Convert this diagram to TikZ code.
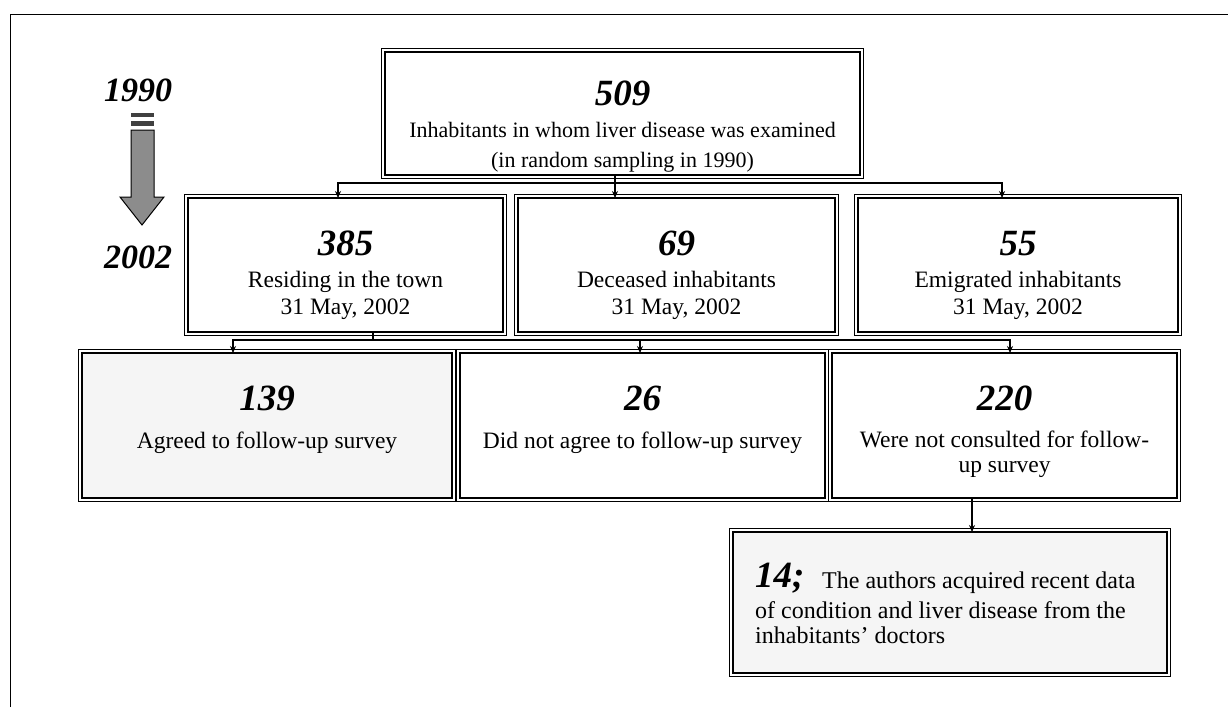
\documentclass[tikz,border=0pt]{standalone}
\usepackage{fontspec}
\setmainfont{Liberation Serif}
\usetikzlibrary{arrows.meta}
\newcommand\numfnt{\fontsize{37}{37}\selectfont\bfseries\itshape}
\newcommand\yearfnt{\fontsize{34}{34}\selectfont\bfseries\itshape}
\newcommand\bodyfnt{\fontsize{23.5}{28}\selectfont}
\newcommand\topfnt{\fontsize{22}{28}\selectfont}
\newcommand\notefnt{\fontsize{24}{28}\selectfont}
\newcommand\outerline[1]{\draw[line width=0.8pt] ([shift={(-3.5,-3.5)}]#1.north west) rectangle ([shift={(3.5,3.5)}]#1.south east);}
\tikzset{
  box/.style={draw, line width=2.4pt, rectangle, outer sep=0pt, inner sep=0pt},
  speckle/.style={fill=black!4},
  num/.style={font=\numfnt, inner sep=0pt, anchor=base},
  year/.style={font=\yearfnt, inner sep=0pt, anchor=base},
  txtline/.style={font=\bodyfnt, inner sep=0pt, anchor=base},
  topline/.style={txtline, font=\topfnt},
  noteline/.style={txtline, font=\notefnt, anchor=base west},
  conn/.style={line width=1.1pt},
  arr/.style={conn, -{Stealth[length=7pt,width=6pt]}},
}
\begin{document}
\begin{tikzpicture}[x=1pt,y=-1pt]
\useasboundingbox (0,0) rectangle (1228,707);
% frame
\draw[line width=1pt] (10,707) -- (10,14) -- (1228,14);

% boxes
\node[box, minimum width=475, minimum height=123] (b509) at (622.5,113.5) {};
\node[box, minimum width=315, minimum height=134] (b385) at (345.5,265) {};
\node[box, minimum width=317, minimum height=134] (b69) at (676.5,265) {};
\node[box, minimum width=320, minimum height=134] (b55) at (1018,265) {};
\node[box, speckle, minimum width=370, minimum height=145] (b139) at (267,425.5) {};
\node[box, minimum width=365, minimum height=145] (b26) at (642.5,425.5) {};
\node[box, minimum width=345, minimum height=145] (b220) at (1004.5,425.5) {};
\node[box, speckle, minimum width=434, minimum height=141] (b14) at (950,602.5) {};
\outerline{b509}
\outerline{b385}
\outerline{b69}
\outerline{b55}
\outerline{b139}
\outerline{b26}
\outerline{b220}
\outerline{b14}

% texts
\node[num] (n509) at (622.5,105) {509};
\node[topline] (t509a) at (622.5,137) {Inhabitants in whom liver disease was examined};
\node[topline] (t509b) at (622.5,167) {(in random sampling in 1990)};

\node[num] (n385) at (345.5,255) {385};
\node[txtline] (t385a) at (345.5,287) {Residing in the town};
\node[txtline] (t385b) at (345.5,314) {31 May, 2002};

\node[num] (n69) at (676.5,255) {69};
\node[txtline] (t69a) at (676.5,287) {Deceased inhabitants};
\node[txtline] (t69b) at (676.5,314) {31 May, 2002};

\node[num] (n55) at (1018,255) {55};
\node[txtline] (t55a) at (1018,287) {Emigrated inhabitants};
\node[txtline] (t55b) at (1018,314) {31 May, 2002};

\node[num] (n139) at (267,410) {139};
\node[txtline] (t139) at (267,448) {Agreed to follow-up survey};

\node[num] (n26) at (642.5,410) {26};
\node[txtline] (t26) at (642.5,448) {Did not agree to follow-up survey};

\node[num] (n220) at (1004.5,410) {220};
\node[txtline] (t220a) at (1004.5,447) {Were not consulted for follow-};
\node[txtline] (t220b) at (1004.5,472) {up survey};

\node[num, anchor=base west] (n14) at (755,587) {14;};
\node[noteline] (t14a) at (822,588) {The authors acquired recent data};
\node[noteline] (t14b) at (755,618) {of condition and liver disease from the};
\node[noteline] (t14c) at (755,643) {inhabitants’ doctors};

% time arrow
\node[year] (y1990) at (138,101.5) {1990};
\node[year] (y2002) at (138,268.5) {2002};
\fill[black!75] (131,113) rectangle (154,117);
\fill[black!75] (131,121) rectangle (154,126);
\draw[line width=1pt, fill=black!45] (131,130) -- (154,130) -- (154,197) -- (164,197) -- (142,225) -- (120,197) -- (131,197) -- cycle;

% connectors
\coordinate (h1) at (615,183);
\draw[arr] ([xshift=-7.5]b509.south) -- ([xshift=-61.5]b69.north);
\draw[arr] (h1) -| ([xshift=-7.5]b385.north);
\draw[arr] (h1) -| ([xshift=-16]b55.north);

\coordinate (h2) at (373,340);
\draw[conn] ([xshift=27.5]b385.south) -- (h2);
\draw[arr] (h2) -| ([xshift=-34]b139.north);
\draw[arr] (h2) -| ([xshift=-2.5]b26.north);
\draw[arr] (h2) -| ([xshift=5.5]b220.north);

\draw[arr] ([xshift=-32.5]b220.south) -- ([xshift=22]b14.north);
\end{tikzpicture}
\end{document}
